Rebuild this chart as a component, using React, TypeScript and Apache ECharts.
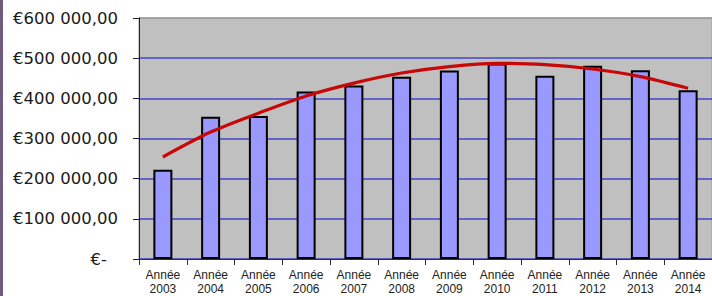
import React, { useEffect, useRef } from "react";
import * as echarts from "echarts";

const years = ["2003", "2004", "2005", "2006", "2007", "2008", "2009", "2010", "2011", "2012", "2013", "2014"];
const revenue = [222000, 354000, 356000, 417000, 432000, 454000, 469000, 487000, 456000, 481000, 470000, 420000];
const trend = [254000, 316000, 363000, 406000, 438000, 463000, 479000, 487000, 484000, 473000, 454000, 425000];
const yTicks = [0, 100000, 200000, 300000, 400000, 500000, 600000];

function fmtEuro(v: number): string {
  if (v === 0) return "{z|€-}";
  const s = String(Math.round(v));
  const parts: string[] = [];
  for (let i = s.length; i > 0; i -= 3) parts.unshift(s.slice(Math.max(0, i - 3), i));
  return "€" + parts.join(" ") + ",00";
}

export default function App() {
  const ref = useRef<HTMLDivElement>(null);
  useEffect(() => {
    if (!ref.current) return;
    const chart = echarts.init(ref.current, null, { renderer: "svg" });
    chart.setOption({
      animation: false,
      backgroundColor: "#ffffff",
      graphic: [
        { type: "rect", left: 0, top: 0, shape: { width: 3, height: 296 }, style: { fill: "#6f5b7f" } },
      ],
      grid: {
        left: 139,
        top: 18,
        width: 577,
        height: 241,
        show: true,
        backgroundColor: "#c0c0c0",
        borderColor: "#9a9a9a",
        borderWidth: 1,
      },
      xAxis: {
        type: "category",
        data: years,
        boundaryGap: true,
        axisLine: { lineStyle: { color: "#333333", width: 1 } },
        axisTick: { show: true, length: 6, lineStyle: { color: "#333333" } },
        axisLabel: {
          interval: 0,
          margin: 9,
          fontFamily: "Liberation Sans",
          fontSize: 12,
          lineHeight: 14,
          color: "#222222",
          formatter: (v: string) => "Année\n" + v,
        },
        splitLine: { show: false },
      },
      yAxis: {
        type: "value",
        min: yTicks[0],
        max: yTicks[yTicks.length - 1],
        interval: 100000,
        axisLine: { show: true, lineStyle: { color: "#222222", width: 1 } },
        axisTick: { show: true, length: 6, lineStyle: { color: "#222222" } },
        axisLabel: {
          margin: 21,
          fontFamily: "DejaVu Sans",
          fontSize: 16.5,
          color: "#1a1a1a",
          formatter: (v: number) => fmtEuro(v),
          rich: {
            z: { fontFamily: "DejaVu Sans", fontSize: 16.5, color: "#1a1a1a", padding: [0, 11, 0, 0] },
          },
        },
        splitLine: {
          show: true,
          lineStyle: {
            color: ["#4646c8", "#4646c8", "#4646c8", "#4646c8", "#4646c8", "#4646c8", "#9a9a9a"],
            width: 1.5,
          },
        },
      },
      series: [
        {
          type: "bar",
          data: revenue,
          barWidth: 19,
          itemStyle: { color: "#9999ff", borderColor: "#000000", borderWidth: 2 },
          z: 2,
        },
        {
          type: "line",
          data: trend,
          smooth: 0.3,
          symbol: "none",
          lineStyle: { color: "#c80808", width: 3.2 },
          z: 3,
        },
      ],
    });
    return () => chart.dispose();
  }, []);
  return (
    <div
      ref={ref}
      style={{ position: "fixed", left: 0, top: 0, width: 712, height: 296, background: "#fff" }}
    />
  );
}
